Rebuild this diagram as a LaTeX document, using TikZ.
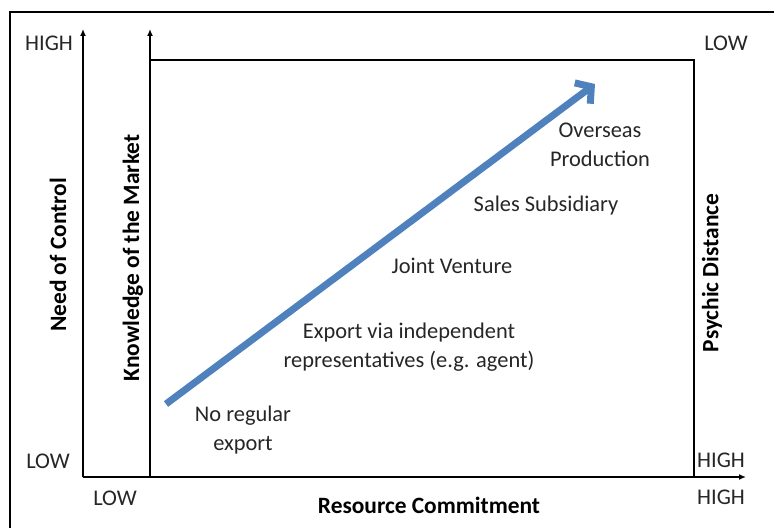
\documentclass[tikz,border=0pt]{standalone}
\usepackage{fontspec}
\setmainfont{Carlito}
\usetikzlibrary{arrows.meta}

\definecolor{officeblue}{RGB}{79,129,189}

\begin{document}
\begin{tikzpicture}[x=1bp,y=-1bp,line width=2bp,>={Latex[length=7bp,width=6bp]},
  every node/.style={font=\fontsize{22.5}{29}\selectfont,text=black!85},
  axlabel/.style={font=\fontsize{23.5}{28}\selectfont\bfseries,text=black}]
  \useasboundingbox (0,0) rectangle (774,528);
  % marco exterior
  \draw (10,528) -- (10,12) -- (774,12);
  % ejes
  \coordinate (o1) at (83,477);   \coordinate (t1) at (83,29);
  \coordinate (o2) at (150,477);  \coordinate (t2) at (150,29);
  \coordinate (xe) at (746,477);
  \coordinate (tl) at (150,60);   \coordinate (tr) at (694,60);
  \coordinate (br) at (694,477);
  \draw[->] (o1) -- (t1);
  \draw[->] (o2) -- (t2);
  \draw[->] (o1) -- (xe);
  \draw (tl) -- (tr) -- (br);
  % extremos de las escalas
  \node (hl) at (49,43) {HIGH};
  \node (ll) at (48,461) {LOW};
  \node (lx) at (115,498) {LOW};
  \node (hx) at (721,497) {HIGH};
  \node (hr) at (721,460) {HIGH};
  \node (lr) at (726,43) {LOW};
  % titulos de los ejes
  \node[axlabel,rotate=90] (nc) at (58,255) {Need of Control};
  \node[axlabel,rotate=90] (km) at (133,258) {Knowledge of the Market};
  \node[axlabel,rotate=90] (pd) at (712,273) {Psychic Distance};
  \node[axlabel] (rc) at (429,505) {Resource Commitment};
  % flecha de expansion
  \coordinate (as) at (166,404); \coordinate (ae) at (595,84);
  \draw[officeblue,line width=7bp,-{Straight Barb[length=11bp,width=26bp]}] (as) -- (ae);
  % etapas
  \node[align=center] (s1) at (243,430) {No regular\\export};
  \node[align=center] (s2) at (409,347) {Export via independent\\representatives (e.g. agent)};
  \node (s3) at (452,266) {Joint Venture};
  \node (s4) at (546,206) {Sales Subsidiary};
  \node[align=center] (s5) at (600,145) {Overseas\\Production};
\end{tikzpicture}
\end{document}
